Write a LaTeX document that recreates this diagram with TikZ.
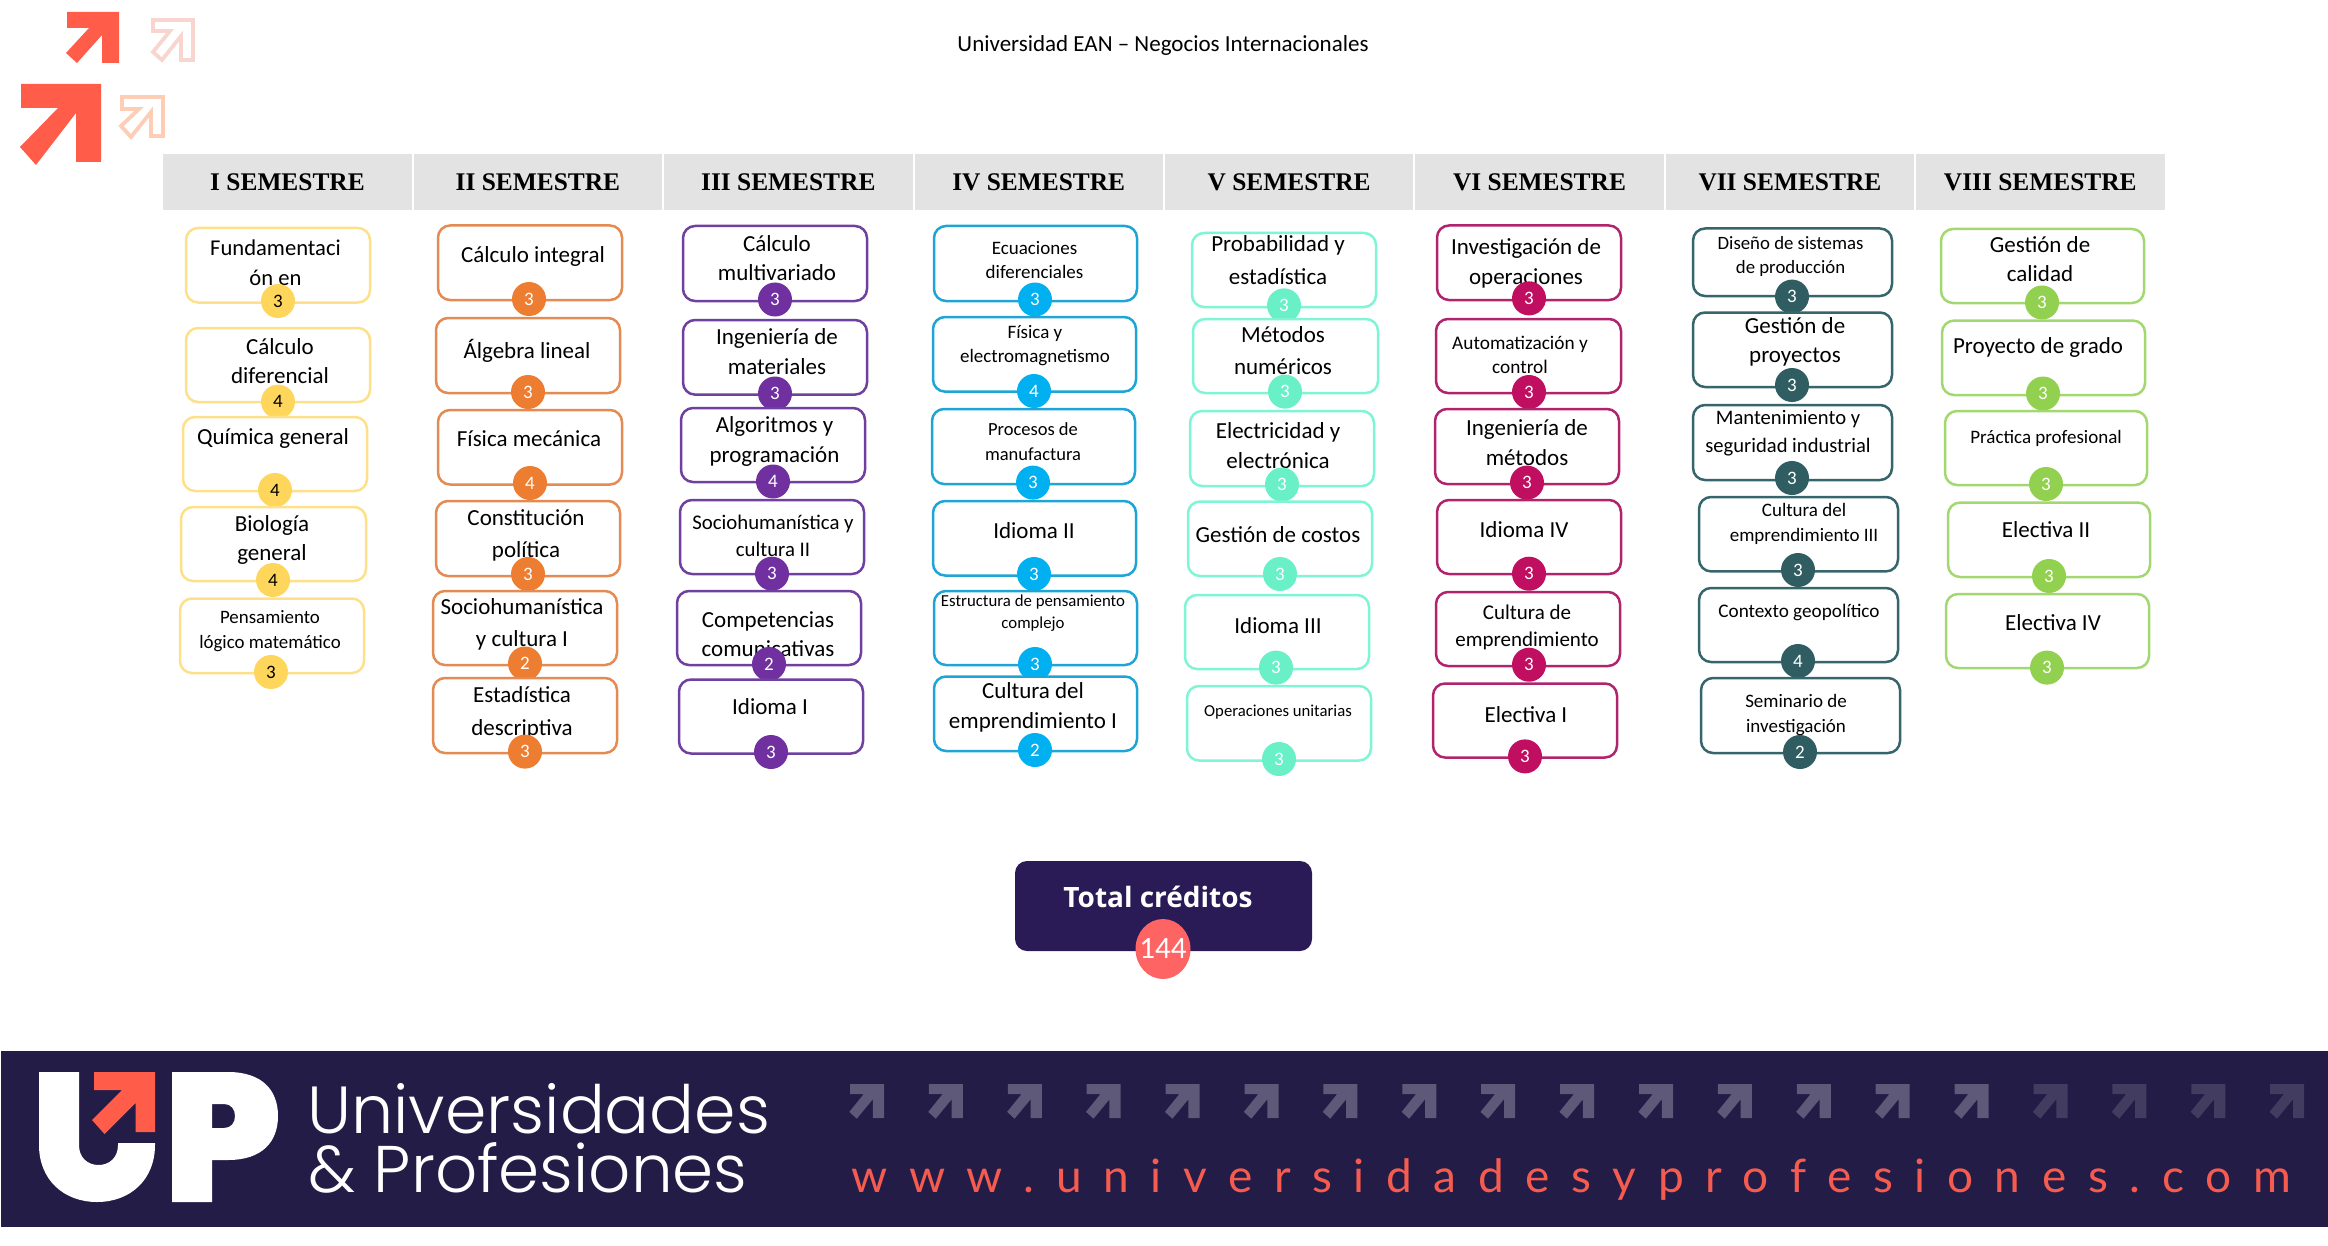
\documentclass[tikz,border=0pt]{standalone}
\usepackage{fontspec}
\usetikzlibrary{shapes.geometric}
\setmainfont{Carlito}
\newfontfamily\headfont{Liberation Serif}
\newfontfamily\totalfont{Open Sans}
\newfontfamily\logofont{Poppins Light}
\newfontfamily\urlfont[LetterSpace=47]{Lato}
\definecolor{bY}{HTML}{FFE08A}\definecolor{cY}{HTML}{FFD65C}
\definecolor{bO}{HTML}{E38B52}\definecolor{cO}{HTML}{ED7D31}
\definecolor{bP}{HTML}{7040A0}\definecolor{cP}{HTML}{7030A0}
\definecolor{bB}{HTML}{1FA5D5}\definecolor{cB}{HTML}{00B0F0}
\definecolor{bT}{HTML}{7FF5D5}\definecolor{cT}{HTML}{69F0C6}
\definecolor{bC}{HTML}{B0246E}\definecolor{cC}{HTML}{C00F60}
\definecolor{bD}{HTML}{36666C}\definecolor{cD}{HTML}{2F5D62}
\definecolor{bG}{HTML}{A3D870}\definecolor{cG}{HTML}{92D050}
\definecolor{navy}{HTML}{221C46}\definecolor{tnavy}{HTML}{2A1A55}
\definecolor{coral}{HTML}{FF5C4A}\definecolor{urlred}{HTML}{F55B4E}
\definecolor{dot}{HTML}{FF6464}\definecolor{paleA}{HTML}{F9D5D0}\definecolor{paleB}{HTML}{FDCDB5}
\tikzset{
  x=0.5pt,y=-0.5pt,
  coursebox/.style={draw=#1,fill=white,line width=1.25pt,rounded corners=6pt,inner sep=0pt,outer sep=0pt},
  creditdot/.style={circle,fill=#1,minimum size=17pt,inner sep=0pt,text=white,font=\fontsize{9.5}{10}\selectfont},
  headbox/.style={fill=black!11,inner sep=0pt,minimum width=124.2pt,minimum height=28pt,font=\headfont\bfseries\fontsize{12.7}{14}\selectfont},
}
\newcommand{\ubox}[6]{\node[coursebox=#2,minimum width={(#5-#3)*0.5pt},minimum height={(#6-#4)*0.5pt}] (b#1) at ({(#3+#5)/2},{(#4+#6)/2}) {};}
\newcommand{\utxt}[6]{\node[inner sep=0pt,align=center,font={\fontsize{\fpeval{#4/2}pt}{\fpeval{#5/2}pt}\selectfont}] (t#1) at (#2,#3) {#6};}
\newcommand{\ucred}[5][white]{\node[creditdot=#3,text=#1] (c#2) at (#4) {#5};}
\newcommand{\arrowshape}[4]{\fill[#4,shift={(#1,#2)}] (0,0) -- (#3,0) -- (#3,#3) -- ({0.67*#3},#3) -- ({0.67*#3},{0.45*#3}) -- ({0.2*#3},{1.02*#3}) -- ({-0.02*#3},{0.82*#3}) -- ({0.4*#3},{0.3*#3}) -- (0,{0.3*#3}) -- cycle;}
\begin{document}
\begin{tikzpicture}
\useasboundingbox (0,0) rectangle (2328,1246);
% corner arrows
\fill[coral] (67,12)--(119,12)--(119,63)--(102,63)--(102,35)--(77,63)--(66,53)--(89,28)--(67,28)--cycle;
\fill[coral] (21,84)--(101,84)--(101,162)--(76,162)--(76,113)--(36,165)--(20,147)--(58,108)--(21,108)--cycle;
\draw[color=paleA,line width=1.9pt] (153,20)--(193,20)--(193,60)--(181,60)--(181,36)--(162,60)--(153,52)--(170,31)--(153,31)--cycle;
\draw[color=paleB,line width=1.9pt] (122,97)--(163,97)--(163,136)--(151,136)--(151,112)--(131,137)--(121,126)--(139,109)--(122,109)--cycle;
% title
\node[inner sep=0pt,font=\fontsize{11.5}{13}\selectfont] (title) at (1163,45) {Universidad EAN – Negocios Internacionales};
% headers
\node[headbox] (h1) at (287.5,182) {I SEMESTRE};
\node[headbox] (h2) at (537.9,182) {II SEMESTRE};
\node[headbox] (h3) at (788.3,182) {III SEMESTRE};
\node[headbox] (h4) at (1038.7,182) {IV SEMESTRE};
\node[headbox] (h5) at (1289.1,182) {V SEMESTRE};
\node[headbox] (h6) at (1539.5,182) {VI SEMESTRE};
\node[headbox] (h7) at (1789.9,182) {VII SEMESTRE};
\node[headbox] (h8) at (2040.3,182) {VIII SEMESTRE};
% column 1
\ubox{11}{bY}{186}{228}{370}{302.5}\utxt{11}{275.5}{263}{22.6}{30}{Fundamentaci\\ón en}\ucred[black]{11}{cY}{278,301}{3}
\ubox{12}{bY}{186}{328}{370}{402}\utxt{12}{280}{361.5}{23}{29}{Cálculo\\diferencial}\ucred[black]{12}{cY}{278,401.6}{4}
\ubox{13}{bY}{183}{417}{367}{491}\utxt{13}{273}{438}{23}{29}{Química general}\ucred[black]{13}{cY}{275,490}{4}
\ubox{14}{bY}{181}{507}{366}{581}\utxt{14}{272}{540}{23}{29}{Biología\\general}\ucred[black]{14}{cY}{273,580}{4}
\ubox{15}{bY}{180}{598.5}{364}{673}\utxt{15}{270}{631}{18.9}{25}{Pensamiento\\lógico matemático}\ucred[black]{15}{cY}{271,672}{3}
% column 2
\ubox{21}{bO}{438}{225.5}{622}{300}\utxt{21}{533}{256}{23}{29}{Cálculo integral}\ucred{21}{cO}{529,299}{3}
\ubox{22}{bO}{436}{318}{620}{393}\utxt{22}{527}{350.6}{23}{29}{Álgebra lineal}\ucred{22}{cO}{528,392}{3}
\ubox{23}{bO}{438}{410}{622}{484.5}\utxt{23}{529}{439}{23}{29}{Física mecánica}\ucred{23}{cO}{530,483}{4}
\ubox{24}{bO}{436}{501}{620}{576}\utxt{24}{526}{535.5}{23}{32}{Constitución\\política}\ucred{24}{cO}{528,574}{3}
\ubox{25}{bO}{433}{591}{617}{665}\utxt{25}{522}{624.5}{23}{32}{Sociohumanística\\y cultura I}\ucred{25}{cO}{525,663.5}{2}
\ubox{26}{bO}{433}{678}{617}{753}\utxt{26}{522}{712.5}{23}{33}{Estadística\\descriptiva}\ucred{26}{cO}{525,751.6}{3}
% column 3
\ubox{31}{bP}{683}{226}{867}{301}\utxt{31}{777}{258}{23}{29}{Cálculo\\multivariado}\ucred{31}{cP}{775,299.5}{3}
\ubox{32}{bP}{683}{320}{867}{394.6}\utxt{32}{777}{352}{23}{30}{Ingeniería de\\materiales}\ucred{32}{cP}{775,393.5}{3}
\ubox{33}{bP}{681}{408}{865}{482}\utxt{33}{774.5}{441.5}{23}{30}{Algoritmos y\\programación}\ucred{33}{cP}{773,481.5}{4}
\ubox{34}{bP}{680}{500}{864}{574}\utxt{34}{773}{535.5}{20.8}{27}{Sociohumanística y\\cultura II}\ucred{34}{cP}{772,573.7}{3}
\ubox{35}{bP}{677}{591}{861}{665}\utxt{35}{768}{634.5}{23}{29}{Competencias\\comunicativas}\ucred{35}{cP}{769,664}{2}
\ubox{36}{bP}{679}{679.5}{863}{753.5}\utxt{36}{770}{707}{23}{29}{Idioma I}\ucred{36}{cP}{771,752}{3}
% column 4
\ubox{41}{bB}{934}{226}{1137}{301}\utxt{41}{1034.5}{260}{19}{24}{Ecuaciones\\diferenciales}\ucred{41}{cB}{1035,299.5}{3}
\ubox{42}{bB}{933}{317}{1136}{391.6}\utxt{42}{1035}{345.5}{19}{24}{Física y\\electromagnetismo}\ucred{42}{cB}{1034,391}{4}
\ubox{43}{bB}{932}{409}{1135}{484}\utxt{43}{1033}{441.5}{18.5}{25}{Procesos de\\manufactura}\ucred{43}{cB}{1033,482.6}{3}
\ubox{44}{bB}{933}{501}{1136}{575.5}\utxt{44}{1034}{531}{23}{29}{Idioma II}\ucred{44}{cB}{1034,574}{3}
\ubox{45}{bB}{934}{591}{1137}{665}\utxt{45}{1033}{613}{16.8}{22}{Estructura de pensamiento\\complejo}\ucred{45}{cB}{1035,664}{3}
\ubox{46}{bB}{934}{676.5}{1137}{751}\utxt{46}{1033}{707}{23}{30}{Cultura del\\emprendimiento I}\ucred{46}{cB}{1035,750}{2}
% column 5
\ubox{51}{bT}{1192}{233}{1376}{307}\utxt{51}{1278}{260}{23}{33}{Probabilidad y\\estadística}\ucred{51}{cT}{1284,305.4}{3}
\ubox{52}{bT}{1193}{319}{1378}{393}\utxt{52}{1283}{351}{23}{32}{Métodos\\numéricos}\ucred{52}{cT}{1285,391.6}{3}
\ubox{53}{bT}{1190}{411}{1374}{486}\utxt{53}{1278}{446}{23}{30}{Electricidad y\\electrónica}\ucred{53}{cT}{1282,484.5}{3}
\ubox{54}{bT}{1188}{501.5}{1372}{576}\utxt{54}{1278}{535}{23}{29}{Gestión de costos}\ucred{54}{cT}{1280,574}{3}
\ubox{55}{bT}{1185}{595}{1369}{669}\utxt{55}{1278}{626}{23}{29}{Idioma III}\ucred{55}{cT}{1276,667.6}{3}
\ubox{56}{bT}{1187}{686}{1371}{760.5}\utxt{56}{1278}{712}{16.7}{22}{Operaciones unitarias}\ucred{56}{cT}{1279,759}{3}
% column 6
\ubox{61}{bC}{1437}{225.5}{1621}{300}\utxt{61}{1526}{263.5}{23}{30}{Investigación de\\operaciones}\ucred{61}{cC}{1529,298.4}{3}
\ubox{62}{bC}{1436}{319}{1621}{393}\utxt{62}{1520}{354.5}{19.3}{24}{Automatización y\\control}\ucred{62}{cC}{1529,392}{3}
\ubox{63}{bC}{1435}{409}{1619}{484}\utxt{63}{1527}{443}{23}{30}{Ingeniería de\\métodos}\ucred{63}{cC}{1527,482.6}{3}
\ubox{64}{bC}{1437}{500}{1621}{574}\utxt{64}{1524}{529.6}{23}{29}{Idioma IV}\ucred{64}{cC}{1529,573.7}{3}
\ubox{65}{bC}{1436}{592}{1620}{666}\utxt{65}{1527}{627}{21}{27}{Cultura de\\emprendimiento}\ucred{65}{cC}{1529,664.7}{3}
\ubox{66}{bC}{1433}{683.5}{1617}{757.5}\utxt{66}{1526}{714.6}{23}{29}{Electiva I}\ucred{66}{cC}{1525,756.4}{3}
% column 7
\ubox{71}{bD}{1693}{228.5}{1892}{296}\utxt{71}{1790.5}{256}{18.8}{24}{Diseño de sistemas\\de producción}\ucred{71}{cD}{1792,296.6}{3}
\ubox{72}{bD}{1693}{312.5}{1892}{387}\utxt{72}{1795}{341.5}{23}{29}{Gestión de\\proyectos}\ucred{72}{cD}{1792,385}{3}
\ubox{73}{bD}{1693}{405}{1892}{480}\utxt{73}{1788}{433}{20.6}{27.5}{Mantenimiento y\\seguridad industrial}\ucred{73}{cD}{1792,478}{3}
\ubox{74}{bD}{1699}{497}{1898}{571.4}\utxt{74}{1804}{524}{19}{25}{Cultura del\\emprendimiento III}\ucred{74}{cD}{1798,570}{3}
\ubox{75}{bD}{1699}{588}{1898}{662}\utxt{75}{1799}{612.5}{19.2}{25}{Contexto geopolítico}\ucred{75}{cD}{1798,661}{4}
\ubox{76}{bD}{1701}{678}{1900}{753}\utxt{76}{1796}{715.5}{19}{25}{Seminario de\\investigación}\ucred{76}{cD}{1800,752}{2}
% column 8
\ubox{81}{bG}{1941}{229}{2144}{303}\utxt{81}{2040}{259.5}{23}{29}{Gestión de\\calidad}\ucred{81}{cG}{2042,302.5}{3}
\ubox{82}{bG}{1942}{320.6}{2145}{395}\utxt{82}{2038}{347}{23}{29}{Proyecto de grado}\ucred{82}{cG}{2043,393.5}{3}
\ubox{83}{bG}{1945}{411}{2147}{485}\utxt{83}{2046}{438}{19}{24}{Práctica profesional}\ucred{83}{cG}{2046,484}{3}
\ubox{84}{bG}{1948}{502.6}{2150}{577}\utxt{84}{2046}{530}{23}{29}{Electiva II}\ucred{84}{cG}{2049,576}{3}
\ubox{85}{bG}{1946}{594}{2149}{668}\utxt{85}{2053}{622.5}{23}{29}{Electiva IV}\ucred{85}{cG}{2047,667.6}{3}
% total
\node[fill=tnavy,rounded corners=6pt,minimum width=148.5pt,minimum height=45pt,inner sep=0pt] (total) at (1163.5,906) {};
\node[inner sep=0pt,text=white,font=\totalfont\bfseries\fontsize{14}{16}\selectfont] (totaltxt) at (1158,897) {Total créditos};
\node[ellipse,fill=dot,minimum width=27.5pt,minimum height=30pt,inner sep=0pt,text=white,font=\fontsize{15.5}{17}\selectfont] (tot144) at (1163,949) {\smash{\makebox[0pt]{\raisebox{-0.32em}{144}}}};
% footer band
\fill[navy] (1,1051) rectangle (2328,1227);
\fill[white] (39,1072) -- (79,1072) -- (79,1145) .. controls (79,1158) and (88,1165) .. (98.5,1165) .. controls (109,1165) and (118,1158) .. (118,1145) -- (118,1143) -- (155,1143) -- (155,1145) .. controls (155,1180) and (130,1202) .. (97,1202) .. controls (64,1202) and (39,1180) .. (39,1145) -- cycle;
\fill[coral] (94,1072) -- (155,1072) -- (155,1132) -- (135.5,1132) -- (135.5,1103) -- (104.5,1134) -- (92,1120) -- (122,1090) -- (94,1090) -- cycle;
\fill[white,even odd rule] (172,1072) -- (228,1072) .. controls (262,1072) and (278,1090) .. (278,1116) .. controls (278,1142) and (262,1160) .. (228,1160) -- (212,1160) -- (212,1202) -- (172,1202) -- cycle (212,1104) -- (224,1104) .. controls (231,1104) and (235,1109) .. (235,1116) .. controls (235,1123) and (231,1128) .. (224,1128) -- (212,1128) -- cycle;
\node[anchor=base west,inner sep=0pt,text=white,font=\logofont\fontsize{33.3}{36}\selectfont] (lg1) at (307,1133) {Universidades};
\node[anchor=base west,inner sep=0pt,text=white,font=\logofont\fontsize{33}{36}\selectfont] (lg2) at (308,1192) {\& Profesiones};
\foreach \i in {0,...,14} {\arrowshape{850+78.9*\i}{1084}{34}{white!27!navy}}
\foreach \i in {15,...,18} {\arrowshape{850+78.9*\i}{1084}{34}{white!14!navy}}
\node[anchor=base west,inner sep=0pt,text=urlred,font=\urlfont\fontsize{23}{26}\selectfont] (url) at (851,1192) {www.universidadesyprofesiones.com};
\end{tikzpicture}
\end{document}
